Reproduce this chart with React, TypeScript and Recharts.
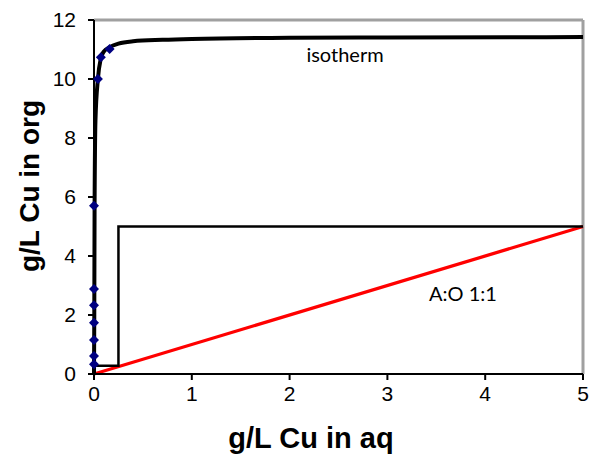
import React from 'react';
import { ComposedChart, Line, Scatter, XAxis, YAxis, ReferenceLine } from 'recharts';

// isotherm measurements (aq, org)
const pointAq = [0, 0, 0, 0, 0, 0, 0, 0.04, 0.07, 0.16];
const pointOrg = [0.33, 0.61, 1.15, 1.74, 2.33, 2.88, 5.7, 10.0, 10.74, 11.02];

// fitted isotherm curve
const curveAq = [0, 0.003, 0.006, 0.015, 0.04, 0.07, 0.1, 0.16, 0.25, 0.4, 0.7, 1, 2, 3, 5];
const curveOrg = [0, 2, 5.7, 8.6, 10.0, 10.7, 10.93, 11.08, 11.2, 11.28, 11.33, 11.36, 11.4, 11.41, 11.42];

// McCabe-Thiele step
const stepAq = [0, 0.25, 0.25, 5];
const stepOrg = [0.28, 0.28, 5, 5];

// operating line A:O 1:1
const opAq = [0, 5];
const opOrg = [0, 5];

const xTicks = [0, 1, 2, 3, 4, 5];
const yTicks = [0, 2, 4, 6, 8, 10, 12];

const zip = (xs: number[], ys: number[]) => xs.map((x, i) => ({ x, y: ys[i] }));

const points = zip(pointAq, pointOrg);
const curve = zip(curveAq, curveOrg);
const step = zip(stepAq, stepOrg);
const opLine = zip(opAq, opOrg);

const Diamond = (props: any) => {
  const { cx, cy } = props;
  const r = 5;
  return (
    <polygon
      points={`${cx},${cy - r} ${cx + r},${cy} ${cx},${cy + r} ${cx - r},${cy}`}
      fill="#000080"
    />
  );
};

const font = 'Arial, "Liberation Sans", sans-serif';
const noteFont = 'Lato, "Open Sans", sans-serif';
const tickStyle = { fill: '#000', fontSize: 21, fontFamily: font };

export default function App() {
  return (
    <div style={{ position: 'absolute', left: 0, top: 0, width: 592, height: 454, background: '#fff' }}>
      <ComposedChart width={592} height={454} margin={{ top: 20, right: 9, bottom: 0, left: 0 }}>
        <XAxis
          type="number"
          dataKey="x"
          domain={[0, 5]}
          ticks={xTicks}
          height={80}
          stroke="#000"
          strokeWidth={2}
          tickSize={6}
          tickMargin={6}
          tick={tickStyle}
        />
        <YAxis
          type="number"
          dataKey="y"
          domain={[0, 12]}
          ticks={yTicks}
          width={94}
          stroke="#000"
          strokeWidth={2}
          tickSize={6}
          tickMargin={12}
          tick={tickStyle}
        />
        <ReferenceLine y={12} stroke="#a0a0a0" strokeWidth={3} />
        <ReferenceLine x={5} stroke="#a0a0a0" strokeWidth={3} />
        <Line
          data={opLine}
          dataKey="y"
          type="linear"
          stroke="#ff0000"
          strokeWidth={3.3}
          dot={false}
          isAnimationActive={false}
        />
        <Line
          data={step}
          dataKey="y"
          type="linear"
          stroke="#000"
          strokeWidth={2.5}
          dot={false}
          isAnimationActive={false}
        />
        <Line
          data={curve}
          dataKey="y"
          type="monotone"
          stroke="#000"
          strokeWidth={4}
          dot={false}
          isAnimationActive={false}
        />
        <Scatter data={points} dataKey="y" shape={<Diamond />} isAnimationActive={false} />
        <text x={345} y={62} textAnchor="middle" fontSize={20} fontFamily={noteFont} fill="#000">
          isotherm
        </text>
        <text x={429} y={301} textAnchor="start" fontSize={20} fontFamily={noteFont} fill="#000">
          A:O 1:1
        </text>
        <text x={311} y={448} textAnchor="middle" fontSize={29} fontWeight="bold" fontFamily={font} fill="#000">
          g/L Cu in aq
        </text>
        <text
          x={39}
          y={186}
          transform="rotate(-90 39 186)"
          textAnchor="middle"
          fontSize={28}
          fontWeight="bold"
          fontFamily={font}
          fill="#000"
        >
          g/L Cu in org
        </text>
      </ComposedChart>
    </div>
  );
}
